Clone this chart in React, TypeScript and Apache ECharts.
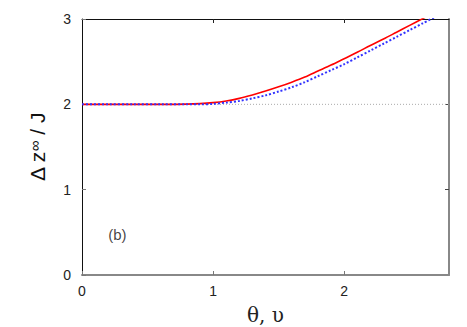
import React, { useEffect, useRef } from "react";
import * as echarts from "echarts";

const thetaValues = [0, 0.2, 0.4, 0.6, 0.8, 0.9, 1.0, 1.1, 1.2, 1.3, 1.4, 1.5, 1.6, 1.7, 1.8, 1.9, 2.0, 2.1, 2.2, 2.3, 2.4, 2.5, 2.6, 2.7];
const redValues = [2.0, 2.0, 2.0, 2.0, 2.002, 2.008, 2.02, 2.04, 2.07, 2.11, 2.155, 2.205, 2.26, 2.32, 2.39, 2.46, 2.535, 2.61, 2.69, 2.765, 2.845, 2.925, 3.005, 3.085];
const blueValues = [2.0, 2.0, 2.0, 2.0, 2.0, 2.0, 2.005, 2.02, 2.04, 2.07, 2.105, 2.15, 2.2, 2.26, 2.33, 2.4, 2.47, 2.55, 2.63, 2.71, 2.79, 2.87, 2.95, 3.03];
const xTicks = [0, 1, 2];
const yTicks = [0, 1, 2, 3];
const referenceLevel = 2;
const panelLabel = "(b)";
const panelLabelPos = [0.27, 0.47];

export default function App() {
  const ref = useRef<HTMLDivElement>(null);
  useEffect(() => {
    if (!ref.current) return;
    const chart = echarts.init(ref.current, null, { renderer: "svg" });
    const red = thetaValues.map((t, i) => [t, redValues[i]]);
    const blue = thetaValues.map((t, i) => [t, blueValues[i]]);
    const labelFont = "Liberation Sans, Arial, sans-serif";
    chart.setOption({
      animation: false,
      backgroundColor: "#fff",
      grid: { left: 82, top: 19, width: 367, height: 256, containLabel: false, outerBoundsMode: "none" },
      xAxis: [
        {
          type: "value",
          min: 0,
          max: 2.8,
          interval: 1,
          position: "bottom",
          axisLine: { show: true, onZero: false, lineStyle: { color: "#888", width: 2 } },
          axisTick: { show: true, inside: true, length: 4, customValues: xTicks, lineStyle: { color: "#777" } },
          axisLabel: { customValues: xTicks, fontFamily: labelFont, fontSize: 14, color: "#222", margin: 9 },
          splitLine: { show: false },
          name: "θ, υ",
          nameLocation: "middle",
          nameGap: 30,
          nameTextStyle: { fontFamily: "DejaVu Serif, Liberation Serif, serif", fontSize: 20, color: "#222" },
        },
        {
          type: "value",
          min: 0,
          max: 2.8,
          interval: 1,
          position: "top",
          axisLine: { show: true, onZero: false, lineStyle: { color: "#111", width: 1 } },
          axisTick: { show: true, inside: true, length: 4, customValues: [1, 2], lineStyle: { color: "#222" } },
          axisLabel: { show: false },
          splitLine: { show: false },
        },
      ],
      yAxis: [
        {
          type: "value",
          min: 0,
          max: 3,
          interval: 1,
          position: "left",
          axisLine: { show: true, onZero: false, lineStyle: { color: "#111", width: 1 } },
          axisTick: { show: true, inside: true, length: 4, customValues: yTicks, lineStyle: { color: "#777" } },
          axisLabel: { customValues: yTicks, fontFamily: labelFont, fontSize: 14, color: "#222", margin: 11 },
          splitLine: { show: false },
        },
        {
          type: "value",
          min: 0,
          max: 3,
          interval: 1,
          position: "right",
          axisLine: { show: true, onZero: false, lineStyle: { color: "#888", width: 2 } },
          axisTick: { show: true, inside: true, length: 4, customValues: [1, 2], lineStyle: { color: "#444" } },
          axisLabel: { show: false },
          splitLine: { show: false },
        },
      ],
      graphic: [
        {
          type: "text",
          x: 37,
          y: 147,
          rotation: Math.PI / 2,
          style: {
            text: "{a|Δ z}{s|∞}{a| / J}",
            align: "center",
            verticalAlign: "middle",
            fill: "#111",
            rich: {
              a: { fontFamily: labelFont, fontSize: 21, fill: "#111", fontWeight: 500 },
              s: { fontFamily: labelFont, fontSize: 15, fill: "#111", verticalAlign: "top" },
            },
          },
        },
      ],
      series: [
        {
          type: "line",
          data: [[0, referenceLevel], [2.8, referenceLevel]],
          showSymbol: false,
          symbol: "none",
          silent: true,
          lineStyle: { color: "#aaa", width: 1, type: [1, 2] },
          z: 1,
        },
        {
          type: "line",
          data: red,
          showSymbol: false,
          symbol: "none",
          smooth: 0.3,
          lineStyle: { color: "#ff0000", width: 1.6 },
          z: 2,
        },
        {
          type: "line",
          data: blue,
          showSymbol: false,
          symbol: "none",
          smooth: 0.3,
          lineStyle: { color: "#3333ff", width: 2, type: [2, 2] },
          z: 3,
        },
        {
          type: "scatter",
          data: [panelLabelPos],
          symbolSize: 1,
          silent: true,
          itemStyle: { color: "transparent" },
          label: { show: true, position: "inside", formatter: panelLabel, fontFamily: labelFont, fontSize: 15, color: "#111" },
          z: 4,
        },
      ],
    });
    return () => chart.dispose();
  }, []);
  return <div ref={ref} style={{ width: 467, height: 327, position: "absolute", left: 0, top: 0 }} />;
}
